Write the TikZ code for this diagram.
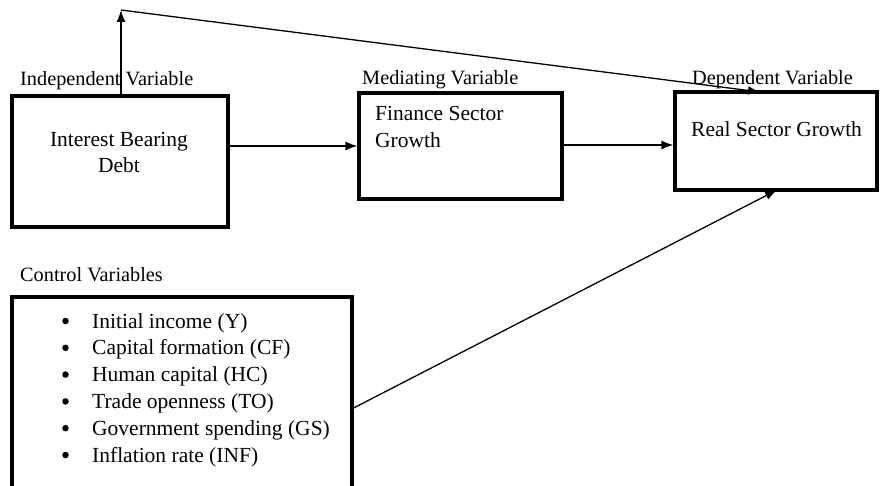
\documentclass[tikz,border=0pt]{standalone}
\usepackage{fontspec}
\setmainfont{Liberation Serif}
\usetikzlibrary{arrows.meta}
\begin{document}
\begin{tikzpicture}[x=1pt,y=-1pt,
  box/.style={draw,line width=3.2pt,inner sep=0pt},
  arr/.style={-{Latex[length=12pt,width=9pt]},line width=1.3pt},
  lbl/.style={font=\fontsize{20.3}{24}\selectfont,anchor=base west,inner sep=0pt},
  btxt/.style={font=\fontsize{21.5}{26}\selectfont,inner sep=0pt},
  dot/.style={circle,fill,inner sep=0pt,minimum size=6.5pt},
  bul/.style={font=\fontsize{21.5}{26}\selectfont,inner sep=0pt,anchor=base west}]
\useasboundingbox (0,0) rectangle (880,486);
% boxes
\node[box,minimum width=216pt,minimum height=131pt] (ibd) at (120,161.5) {};
\node[box,minimum width=203pt,minimum height=106pt] (fin) at (460.5,146) {};
\node[box,minimum width=202pt,minimum height=98pt] (real) at (776,141) {};
\node[box,minimum width=340pt,minimum height=222pt] (ctrl) at (182,408) {};
% box texts
\node[btxt,anchor=base] (t1) at (119,147) {Interest Bearing};
\node[btxt,anchor=base] (t2) at (119,173) {Debt};
\node[btxt,anchor=base west] (t3) at (375,121) {Finance Sector};
\node[btxt,anchor=base west] (t4) at (375,148) {Growth};
\node[btxt,anchor=base west] (t5) at (691,137) {Real Sector Growth};
% labels
\node[lbl] (l1) at (20,86) {Independent Variable};
\node[lbl] (l2) at (362,85) {Mediating Variable};
\node[lbl] (l3) at (692,85) {Dependent Variable};
\node[lbl] (l4) at (20,281) {Control Variables};
% bullet list
\foreach \i/\t in {0/Initial income (Y),1/Capital formation (CF),2/Human capital (HC),3/Trade openness (TO),4/Government spending (GS),5/Inflation rate (INF)}{
  \node[dot] (b\i) at (65.5,321+26.8*\i) {};
  \node[bul] (c\i) at (92,328+26.8*\i) {\t};
}
% connectors
\coordinate (top) at (121,10);
\coordinate (rtop) at (760,92);
\coordinate (rbot) at (777,190);
\draw[arr] (ibd.north -| top) -- (top);
\draw[arr] (top) -- (rtop);
\draw[arr] (ibd.east |- fin.west) -- (fin.west);
\draw[arr] (fin.east |- 0,145) -- (real.west |- 0,145);
\draw[arr] (ctrl.east) -- (rbot);
\end{tikzpicture}
\end{document}
